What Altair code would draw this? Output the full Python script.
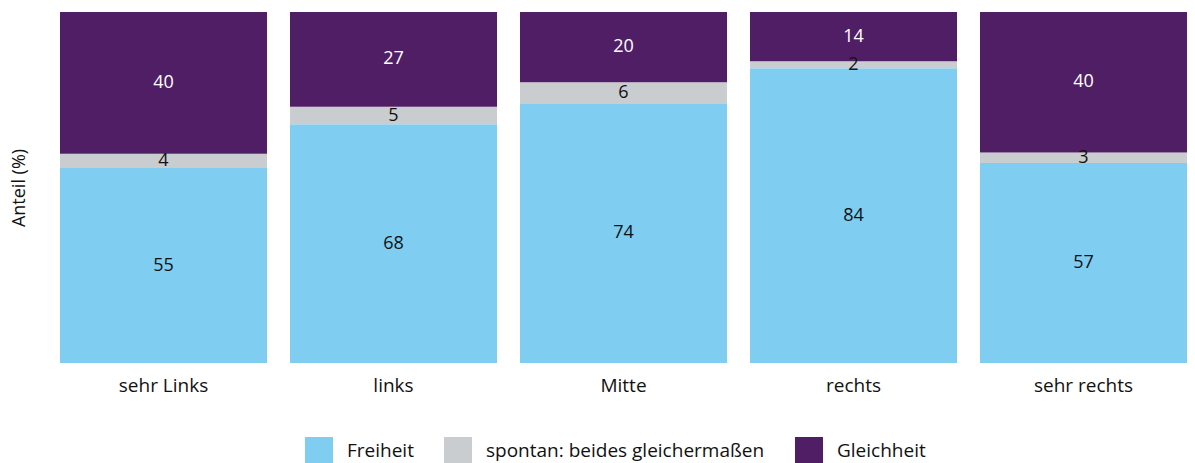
import altair as alt
import pandas as pd

categories = ["sehr Links", "links", "Mitte", "rechts", "sehr rechts"]
series = ["Freiheit", "spontan: beides gleichermaßen", "Gleichheit"]
freiheit = [55, 68, 74, 84, 57]
beides = [4, 5, 6, 2, 3]
gleichheit = [40, 27, 20, 14, 40]
colors = ["#7FCEF1", "#C9CDD0", "#501E64"]
text_colors = ["#111111", "#111111", "#FFFFFF"]

rows = []
for i, c in enumerate(categories):
    for j, (s, vals) in enumerate(zip(series, [freiheit, beides, gleichheit])):
        rows.append({"cat": c, "series": s, "idx": j, "value": vals[i], "tcolor": text_colors[j]})
df = pd.DataFrame(rows)

FONT = "Open Sans"

base = alt.Chart(df).transform_stack(
    stack="value", as_=["y0", "y1"], groupby=["cat"],
    sort=[alt.SortField("idx", order="ascending")], offset="normalize"
).transform_calculate(mid="(datum.y0 + datum.y1) / 2")

x = alt.X("cat:N", sort=categories, title=None,
          scale=alt.Scale(paddingInner=0.1, paddingOuter=0),
          axis=alt.Axis(labelAngle=0, ticks=False, domain=False, labelFontSize=19,
                        labelColor="#111111", labelPadding=13, labelFont=FONT))

bars = base.mark_bar().encode(
    x=x,
    y=alt.Y("y0:Q", scale=alt.Scale(domain=[0, 1]), title="Anteil (%)",
            axis=alt.Axis(labels=False, ticks=False, domain=False, grid=False,
                          titleFontSize=18, titleFont=FONT, titleFontWeight="normal",
                          titleColor="#111111", titlePadding=32)),
    y2="y1:Q",
    color=alt.Color("series:N", sort=series,
                    scale=alt.Scale(domain=series, range=colors),
                    legend=alt.Legend(title=None, orient="none", direction="horizontal",
                                      legendX=245, legendY=425, labelLimit=0,
                                      symbolType="square", symbolSize=784,
                                      symbolStrokeWidth=0, labelFontSize=19,
                                      labelFont=FONT, labelColor="#111111",
                                      labelOffset=14, columnPadding=30)),
)

texts = base.mark_text(fontSize=18, font=FONT).encode(
    x=x,
    y=alt.Y("mid:Q", scale=alt.Scale(domain=[0, 1])),
    text=alt.Text("value:Q"),
    color=alt.Color("tcolor:N", scale=None, legend=None),
)

chart = (bars + texts).properties(
    width=1127, height=351,
    padding={"left": 2, "top": 4, "right": 0, "bottom": 0},
).configure_view(stroke=None).configure_axis(grid=False)

chart.save("out.html", embed_options={"renderer": "svg", "actions": False})
